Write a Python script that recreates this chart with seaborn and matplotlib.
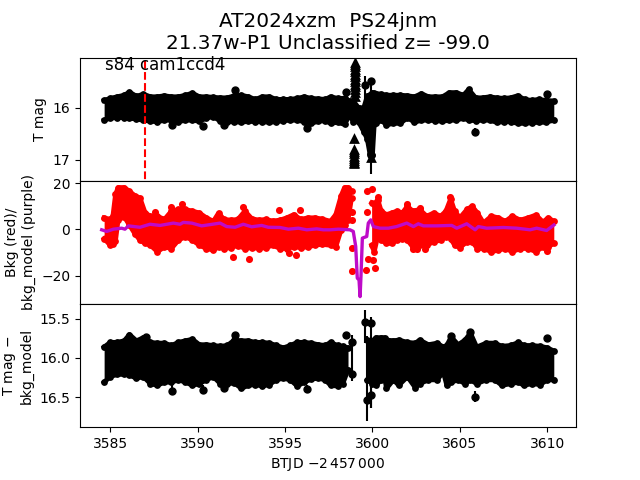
import matplotlib
matplotlib.use("Agg")
import matplotlib.pyplot as plt
import seaborn as sns

# =============================================================
# DATA (band edges of the dense light curves)
# =============================================================
mag_t = [3584.65, 3585.0, 3585.4, 3585.8, 3586.1, 3586.5, 3586.9, 3587.3, 3587.7, 3588.1, 3588.5, 3588.9,
         3589.3, 3589.7, 3590.1, 3590.5, 3590.9, 3591.3, 3591.7, 3592.1, 3592.5, 3592.9, 3593.3, 3593.7,
         3594.1, 3594.5, 3594.9, 3595.3, 3595.7, 3596.1, 3596.5, 3596.9, 3597.3, 3597.6, 3598.0, 3598.4,
         3598.7, 3598.9, 3599.2, 3599.5, 3599.7, 3599.85, 3600.0, 3600.1, 3600.2, 3600.5, 3600.8, 3601.2,
         3601.6, 3602.0, 3602.4, 3602.8, 3603.2, 3603.6, 3604.0, 3604.4, 3604.8, 3605.2, 3605.5, 3605.9,
         3606.3, 3606.7, 3607.1, 3607.5, 3607.9, 3608.3, 3608.7, 3609.1, 3609.5, 3609.9, 3610.37]
mag_hi = [15.86, 15.82, 15.79, 15.76, 15.70, 15.78, 15.74, 15.79, 15.79, 15.77, 15.79, 15.79,
          15.76, 15.72, 15.79, 15.79, 15.80, 15.81, 15.81, 15.77, 15.76, 15.79, 15.84, 15.79,
          15.79, 15.84, 15.84, 15.84, 15.82, 15.79, 15.82, 15.83, 15.84, 15.79, 15.82, 15.82,
          15.87, 15.87, 16.00, 16.00, 15.78, 15.75, 15.71, 15.72, 15.73, 15.74, 15.76, 15.76,
          15.76, 15.77, 15.79, 15.73, 15.79, 15.79, 15.79, 15.71, 15.71, 15.76, 15.65, 15.81,
          15.81, 15.79, 15.81, 15.82, 15.81, 15.77, 15.84, 15.86, 15.84, 15.86, 15.87]
mag_lo = [16.24, 16.20, 16.19, 16.19, 16.20, 16.22, 16.24, 16.26, 16.27, 16.24, 16.24, 16.27,
          16.24, 16.24, 16.26, 16.20, 16.17, 16.26, 16.27, 16.27, 16.28, 16.26, 16.27, 16.27,
          16.28, 16.27, 16.25, 16.24, 16.24, 16.27, 16.30, 16.26, 16.25, 16.30, 16.28, 16.32,
          16.14, 16.27, 16.27, 16.46, 16.60, 16.88, 16.90, 16.32, 16.30, 16.24, 16.33, 16.30,
          16.30, 16.19, 16.28, 16.24, 16.24, 16.25, 16.26, 16.24, 16.24, 16.20, 16.24, 16.25,
          16.24, 16.24, 16.28, 16.27, 16.27, 16.30, 16.30, 16.29, 16.28, 16.28, 16.24]

spike_t = [3599.0, 3599.0, 3599.0, 3599.0, 3599.0, 3599.0, 3599.0, 3599.0, 3599.0, 3599.0, 3599.0,
           3599.0, 3599.0, 3599.0, 3598.95, 3598.92, 3598.92, 3598.92, 3598.92, 3598.92, 3598.92,
           3598.92, 3598.92, 3599.92]
spike_mag = [15.12, 15.16, 15.20, 15.25, 15.30, 15.35, 15.40, 15.45, 15.49, 15.54, 15.59, 15.64,
             15.69, 15.78, 16.58, 16.79, 16.83, 16.87, 16.92, 16.97, 17.01, 17.04, 17.06, 16.94]

mag_err_t = [3599.57, 3599.92, 3599.92, 3588.55, 3590.33, 3591.51, 3596.28, 3605.87, 3592.14, 3598.49, 3609.99]
mag_err_y = [15.56, 15.49, 16.90, 16.33, 16.35, 16.33, 16.38, 16.47, 15.67, 15.70, 15.74]
mag_err_low = [0.16, 0.05, 0.05, 0.04, 0.04, 0.04, 0.04, 0.08, 0.03, 0.03, 0.03]
mag_err_high = [0.32, 0.40, 0.37, 0.04, 0.04, 0.04, 0.04, 0.06, 0.03, 0.03, 0.03]

bkg_t = [3584.65, 3585.0, 3585.15, 3585.3, 3585.45, 3585.8, 3586.1, 3586.4, 3586.7, 3587.0, 3587.3, 3587.7,
         3588.1, 3588.5, 3588.9, 3589.3, 3589.7, 3590.1, 3590.5, 3590.9, 3591.2, 3591.5, 3591.9, 3592.3,
         3592.7, 3593.1, 3593.5, 3593.9, 3594.3, 3594.7, 3595.1, 3595.5, 3595.9, 3596.3, 3596.7, 3597.1,
         3597.6, 3597.9, 3598.2, 3598.4, 3598.6, 3598.8]
bkg_hi = [5.0, 4.3, 5.7, 15.1, 18.1, 18.1, 16.5, 14.6, 13.6, 7.1, 5.7, 5.7,
          4.3, 7.9, 8.6, 8.6, 7.9, 7.1, 5.0, 3.5, 7.1, 4.3, 4.0, 4.3,
          7.9, 4.6, 4.0, 4.3, 3.6, 4.0, 5.0, 6.4, 4.3, 5.0, 5.0, 4.5,
          3.5, 6.4, 14.4, 18.1, 18.1, 16.5]
bkg_lo = [-4.0, -6.9, -6.5, -5.0, 4.0, 5.4, 1.8, -1.8, -4.7, -6.1, -6.9, -9.7,
          -7.6, -8.3, -4.7, -3.2, -4.7, -6.9, -8.3, -9.0, -7.6, -8.3, -7.9, -7.0,
          -8.3, -7.9, -8.3, -7.9, -6.9, -8.3, -8.3, -7.6, -7.9, -7.6, -6.9, -6.5,
          -6.9, -7.6, -0.4, 2.0, 4.0, 13.4]
bkg2_t = [3599.95, 3600.1, 3600.3, 3600.5, 3600.8, 3601.1, 3601.4, 3601.7, 3602.0, 3602.3, 3602.7, 3603.1,
          3603.5, 3603.9, 3604.2, 3604.47, 3604.7, 3605.0, 3605.4, 3605.7, 3606.0, 3606.35, 3606.8, 3607.2,
          3607.6, 3608.0, 3608.45, 3608.9, 3609.35, 3609.75, 3610.05, 3610.37]
bkg2_hi = [11.5, 10.8, 12.9, 7.9, 6.4, 7.1, 7.9, 7.1, 10.0, 7.9, 8.6, 5.7,
           7.1, 5.7, 7.9, 13.2, 7.9, 5.0, 8.6, 10.0, 7.1, 2.8, 5.7, 5.0,
           3.5, 5.7, 4.0, 5.0, 6.2, 3.2, 5.0, 3.5]
bkg2_lo = [-6.9, -9.7, -3.0, -4.7, -6.1, -6.1, -4.7, -4.0, -4.7, -7.6, -6.9, -6.9,
           -5.4, -4.7, -3.2, -4.0, -6.9, -7.9, -5.4, -5.4, -8.3, -8.3, -9.7, -9.0,
           -8.3, -9.7, -8.3, -8.3, -9.7, -7.6, -7.6, -6.1]
bkg_out_t = [3592.04, 3592.96, 3595.2, 3595.6, 3594.67, 3595.87, 3592.6, 3588.5, 3587.56, 3589.1,
             3598.85, 3598.85, 3598.85, 3598.85, 3599.61, 3599.67, 3600.14, 3599.76, 3600.05,
             3599.71, 3599.95, 3600.34, 3601.96, 3602.72, 3602.3, 3602.57, 3603.0, 3610.0, 3604.44]
bkg_out_y = [-12.05, -12.9, -10.3, -11.2, 8.3, 8.3, 9.6, 9.6, 7.6, 11.0,
             7.4, 4.1, -8.1, -18.0, -17.5, 7.3, -16.8, -12.9, -13.2,
             16.4, 17.4, 13.9, 10.9, 9.2, -8.4, -8.6, -8.6, -9.3, 14.2]

model_t = [3584.51, 3584.8, 3585.18, 3585.65, 3585.84, 3586.04, 3586.7, 3587.27, 3587.85, 3588.61, 3588.99, 3589.18,
           3589.66, 3590.23, 3591.28, 3591.66, 3592.14, 3592.61, 3593.09, 3593.66, 3594.04, 3594.71, 3595.19, 3595.76,
           3596.24, 3596.81, 3597.19, 3597.57, 3598.05, 3598.71, 3598.9, 3599.04, 3599.13, 3599.23, 3599.29, 3599.34,
           3599.42, 3599.67, 3599.76, 3599.9, 3600.05, 3600.43, 3600.91, 3601.38, 3601.96, 3602.34, 3602.62, 3602.91,
           3603.67, 3604.53, 3604.82, 3605.39, 3605.87, 3606.06, 3606.53, 3607.49, 3608.25, 3609.01, 3609.39, 3609.96, 3610.38]
model_y = [-0.2, -0.9, 0.07, 0.5, 0.07, 1.5, 0.9, 2.2, 1.7, 2.7, 2.2, 3.0,
           2.7, 1.5, 2.7, 1.2, 0.9, 2.2, 1.1, 1.7, 0.9, 0.8, 0.07, 0.5,
           -0.2, 0.2, -0.2, -0.2, 0.07, -0.2, -0.9, -7.4, -21.1, -21.9, -29.1, -20.4,
           -3.8, -3.1, 2.7, 4.1, 1.2, 0.5, 0.5, 1.2, 2.7, 1.2, 2.4, 1.5,
           1.5, 1.7, 0.5, 2.4, -0.2, 1.2, 0.5, 0.8, 0.5, -0.2, 0.5, -0.5, 1.9]

diff_t = [3584.65, 3585.0, 3585.4, 3585.8, 3586.1, 3586.5, 3586.9, 3587.3, 3587.7, 3588.1, 3588.5, 3588.9,
          3589.3, 3589.7, 3590.1, 3590.5, 3590.9, 3591.3, 3591.7, 3592.1, 3592.5, 3592.9, 3593.3, 3593.7,
          3594.1, 3594.5, 3594.9, 3595.3, 3595.7, 3596.1, 3596.5, 3596.9, 3597.3, 3597.6, 3598.0, 3598.3, 3598.6]
diff_hi = [15.86, 15.80, 15.80, 15.78, 15.70, 15.78, 15.74, 15.80, 15.81, 15.81, 15.84, 15.80,
           15.78, 15.76, 15.83, 15.83, 15.84, 15.85, 15.84, 15.77, 15.78, 15.78, 15.80, 15.80,
           15.81, 15.84, 15.87, 15.84, 15.80, 15.80, 15.81, 15.83, 15.84, 15.80, 15.84, 15.85, 15.87]
diff_lo = [16.31, 16.24, 16.21, 16.21, 16.22, 16.26, 16.24, 16.33, 16.35, 16.31, 16.31, 16.28,
           16.31, 16.35, 16.33, 16.28, 16.24, 16.33, 16.33, 16.32, 16.39, 16.35, 16.34, 16.36,
           16.34, 16.28, 16.26, 16.28, 16.36, 16.31, 16.27, 16.26, 16.28, 16.35, 16.36, 16.33, 16.15]
diff2_t = [3599.7, 3600.0, 3600.2, 3600.5, 3600.7, 3600.8, 3601.2, 3601.5, 3602.0, 3602.45, 3602.7, 3603.2,
           3603.7, 3604.05, 3604.25, 3604.5, 3604.9, 3605.3, 3605.6, 3605.96, 3606.5, 3607.0, 3607.4, 3607.9,
           3608.35, 3608.65, 3609.1, 3609.6, 3610.0, 3610.37]
diff2_hi = [15.77, 15.78, 15.74, 15.74, 15.74, 15.77, 15.78, 15.77, 15.80, 15.81, 15.77, 15.83,
            15.81, 15.86, 15.84, 15.73, 15.83, 15.77, 15.68, 15.86, 15.81, 15.81, 15.85, 15.84,
            15.80, 15.84, 15.84, 15.85, 15.87, 15.91]
diff2_lo = [16.28, 16.33, 16.35, 16.28, 16.26, 16.39, 16.28, 16.35, 16.24, 16.38, 16.33, 16.28,
            16.28, 16.18, 16.35, 16.31, 16.28, 16.33, 16.28, 16.33, 16.28, 16.28, 16.35, 16.33,
            16.31, 16.35, 16.33, 16.34, 16.28, 16.28]
diff_err_t = [3599.57, 3599.67, 3599.92, 3599.92, 3598.85, 3598.85, 3588.55, 3590.33, 3591.51, 3596.28,
              3605.87, 3592.14, 3587.03, 3598.49, 3610.0, 3604.5, 3605.6]
diff_err_y = [15.54, 16.54, 15.55, 16.47, 15.79, 16.21, 16.42, 16.41, 16.39, 16.40,
              16.50, 15.705, 15.735, 15.71, 15.744, 15.72, 15.67]
diff_err_low = [0.15, 0.82, 0.08, 0.30, 0.09, 0.21, 0.08, 0.07, 0.06, 0.06,
                0.08, 0.03, 0.03, 0.03, 0.03, 0.03, 0.03]
diff_err_high = [0.27, 0.27, 1.09, 0.17, 0.21, 0.08, 0.05, 0.05, 0.05, 0.05,
                 0.06, 0.03, 0.03, 0.03, 0.03, 0.03, 0.03]

x_ticks = [3585, 3590, 3595, 3600, 3605, 3610]
red_line_t = 3586.96


def draw_band(ax, t, hi, lo, color):
    ax.fill_between(t, hi, lo, color=color, linewidth=0, zorder=2)
    for edge in (hi, lo):
        # thick edge line keeps the outline from looking like a row of beads
        sns.lineplot(x=t, y=edge, color=color, lw=3.4, ax=ax, zorder=2)
        sns.scatterplot(x=t, y=edge, color=color, s=24, linewidth=0, ax=ax, zorder=2)


fig, axes = plt.subplots(3, 1, figsize=(6.4, 4.8), dpi=100, sharex=True)
fig.subplots_adjust(hspace=0)
ax1, ax2, ax3 = axes

# =============================================================
# TOP -- T mag
# =============================================================
draw_band(ax1, mag_t, mag_hi, mag_lo, "black")
sns.scatterplot(x=spike_t, y=spike_mag, color="black", marker="^", s=60, linewidth=0, ax=ax1, zorder=3)
ax1.errorbar(mag_err_t, mag_err_y, yerr=[mag_err_low, mag_err_high], fmt="o", color="black", ms=5, lw=1.5, zorder=3)
ax1.plot([red_line_t, red_line_t], [15.1, 17.4], color="red", ls="--", lw=1.5, zorder=4)
ax1.text(3584.72, 15.28, "s84 cam1ccd4", fontsize=12, zorder=5)
ax1.set_ylim(17.40, 15.04)
ax1.set_yticks([16, 17])
ax1.set_ylabel("T mag")

# =============================================================
# MIDDLE -- background
# =============================================================
draw_band(ax2, bkg_t, bkg_hi, bkg_lo, "red")
draw_band(ax2, bkg2_t, bkg2_hi, bkg2_lo, "red")
sns.scatterplot(x=bkg_out_t, y=bkg_out_y, color="red", s=26, linewidth=0, ax=ax2, zorder=2)
sns.lineplot(x=model_t, y=model_y, color="#BE0BC8", lw=2.4, ax=ax2, zorder=3)
ax2.set_ylim(-32.3, 21)
ax2.set_yticks([-20, 0, 20])
ax2.set_ylabel("Bkg (red)/\nbkg_model (purple)")

# =============================================================
# BOTTOM -- T mag minus bkg_model
# =============================================================
draw_band(ax3, diff_t, diff_hi, diff_lo, "black")
draw_band(ax3, diff2_t, diff2_hi, diff2_lo, "black")
ax3.errorbar(diff_err_t, diff_err_y, yerr=[diff_err_low, diff_err_high], fmt="o", color="black", ms=5, lw=1.5, zorder=3)
ax3.set_ylim(16.885, 15.31)
ax3.set_yticks([15.5, 16, 16.5])
ax3.set_yticklabels(["15.5", "16.0", "16.5"])
ax3.set_ylabel("T mag $-$\nbkg_model")
ax3.set_xlim(3583.27, 3611.64)
ax3.set_xticks(x_ticks)
ax3.set_xlabel(r"BTJD $-2\,457\,000$")

ax1.tick_params(bottom=False)
ax2.tick_params(bottom=False)

ax1.set_title("AT2024xzm  PS24jnm\n21.37w-P1 Unclassified z= -99.0", fontsize=14.4, pad=6)

fig.savefig("out.png", dpi=100)
